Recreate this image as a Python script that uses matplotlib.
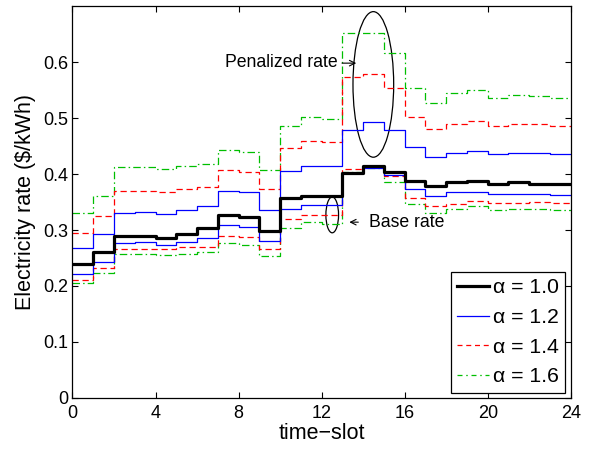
import matplotlib
matplotlib.use("Agg")
import matplotlib.pyplot as plt
from matplotlib.patches import Ellipse
import numpy as np

plt.rcParams['font.family'] = ['Liberation Sans', 'DejaVu Sans']

slots = np.arange(0, 25)

rate_a10 = [0.240, 0.260, 0.289, 0.289, 0.286, 0.293, 0.303, 0.326, 0.324, 0.299,
            0.357, 0.360, 0.361, 0.401, 0.415, 0.404, 0.388, 0.379, 0.385, 0.388,
            0.383, 0.385, 0.383, 0.383]

base_a12 = [0.222, 0.243, 0.276, 0.278, 0.274, 0.279, 0.285, 0.309, 0.306, 0.280,
            0.338, 0.345, 0.345, 0.401, 0.410, 0.398, 0.374, 0.361, 0.367, 0.368,
            0.364, 0.365, 0.364, 0.362]
pen_a12 = [0.267, 0.292, 0.331, 0.333, 0.329, 0.336, 0.342, 0.370, 0.367, 0.336,
           0.405, 0.415, 0.415, 0.479, 0.493, 0.478, 0.449, 0.431, 0.438, 0.441,
           0.436, 0.438, 0.437, 0.435]

base_a14 = [0.211, 0.233, 0.266, 0.266, 0.266, 0.269, 0.270, 0.290, 0.288, 0.266,
            0.319, 0.327, 0.327, 0.409, 0.415, 0.397, 0.358, 0.342, 0.346, 0.351,
            0.349, 0.349, 0.350, 0.349]
pen_a14 = [0.295, 0.325, 0.370, 0.370, 0.367, 0.374, 0.377, 0.407, 0.403, 0.373,
           0.447, 0.459, 0.458, 0.574, 0.578, 0.554, 0.501, 0.480, 0.489, 0.494,
           0.485, 0.490, 0.489, 0.486]

base_a16 = [0.206, 0.224, 0.258, 0.258, 0.255, 0.258, 0.260, 0.277, 0.274, 0.254,
            0.304, 0.314, 0.311, 0.403, 0.410, 0.386, 0.346, 0.330, 0.338, 0.343,
            0.336, 0.338, 0.337, 0.335]
pen_a16 = [0.330, 0.361, 0.412, 0.412, 0.409, 0.415, 0.417, 0.443, 0.439, 0.407,
           0.486, 0.502, 0.498, 0.652, 0.652, 0.617, 0.553, 0.527, 0.544, 0.550,
           0.536, 0.541, 0.540, 0.535]

x_ticks = [0, 4, 8, 12, 16, 20, 24]
y_ticks = [0, 0.1, 0.2, 0.3, 0.4, 0.5, 0.6]
y_ticklabels = ['0', '0.1', '0.2', '0.3', '0.4', '0.5', '0.6']

fig = plt.figure(figsize=(6.04, 4.5), dpi=100)
ax = fig.add_axes([0.120, 0.1156, 0.825, 0.871])

def st(vals):
    return list(vals) + [vals[-1]]

green = (0.0, 0.75, 0.0)
dd = (6, 2.5, 1.2, 2.5)
ds = (5, 3)
ax.step(slots, st(pen_a16), where='post', color=green, lw=0.9, ls='-.', dashes=dd)
ax.step(slots, st(base_a16), where='post', color=green, lw=0.9, ls='-.', dashes=dd)
ax.step(slots, st(pen_a14), where='post', color='red', lw=0.9, ls='--', dashes=ds)
ax.step(slots, st(base_a14), where='post', color='red', lw=0.9, ls='--', dashes=ds)
ax.step(slots, st(pen_a12), where='post', color='blue', lw=0.9)
ax.step(slots, st(base_a12), where='post', color='blue', lw=0.9)
ax.step(slots, st(rate_a10), where='post', color='black', lw=2.3)

h1, = ax.plot([], [], color='black', lw=2.3, label='α = 1.0')
h2, = ax.plot([], [], color='blue', lw=0.9, label='α = 1.2')
h3, = ax.plot([], [], color='red', lw=0.9, ls='--', dashes=(4, 3), label='α = 1.4')
h4, = ax.plot([], [], color=green, lw=0.9, ls='-.', dashes=(4, 3, 1.2, 3), label='α = 1.6')
leg = ax.legend(handles=[h1, h2, h3, h4], loc='lower right', fontsize=15.3,
                frameon=True, fancybox=False, edgecolor='black', framealpha=1,
                handlelength=1.5, handletextpad=0.2, borderaxespad=0.25,
                borderpad=0.3, labelspacing=0.5)
leg.get_frame().set_linewidth(0.9)

ax.set_xlim(0, 24)
ax.set_ylim(0, 0.7)
ax.set_xticks(x_ticks)
ax.set_yticks(y_ticks)
ax.set_yticklabels(y_ticklabels)
ax.tick_params(direction='in', top=True, right=True, labelsize=13, length=4)
ax.tick_params(axis='x', pad=5)
ax.tick_params(axis='y', pad=3)
for s in ax.spines.values():
    s.set_linewidth(0.9)

ax.set_xlabel('time\u2212slot', fontsize=15.5, labelpad=1)
ax.set_ylabel('Electricity rate (\\$/kWh)', fontsize=15.5, labelpad=5)

ax.add_patch(Ellipse((14.49, 0.560), 1.96, 0.26, fill=False, color='black', lw=0.9))
ax.add_patch(Ellipse((12.51, 0.327), 0.61, 0.064, fill=False, color='black', lw=0.9))
ax.text(12.75, 0.599, 'Penalized rate', ha='right', va='center', fontsize=12.7)
ax.annotate('', xy=(13.8, 0.598), xytext=(12.85, 0.598),
            arrowprops=dict(arrowstyle='->', color='black', lw=0.8))
ax.annotate('', xy=(13.2, 0.314), xytext=(13.9, 0.314),
            arrowprops=dict(arrowstyle='->', color='black', lw=0.8))
ax.text(14.28, 0.314, 'Base rate', ha='left', va='center', fontsize=12.7)

fig.savefig('out.png', dpi=100)
